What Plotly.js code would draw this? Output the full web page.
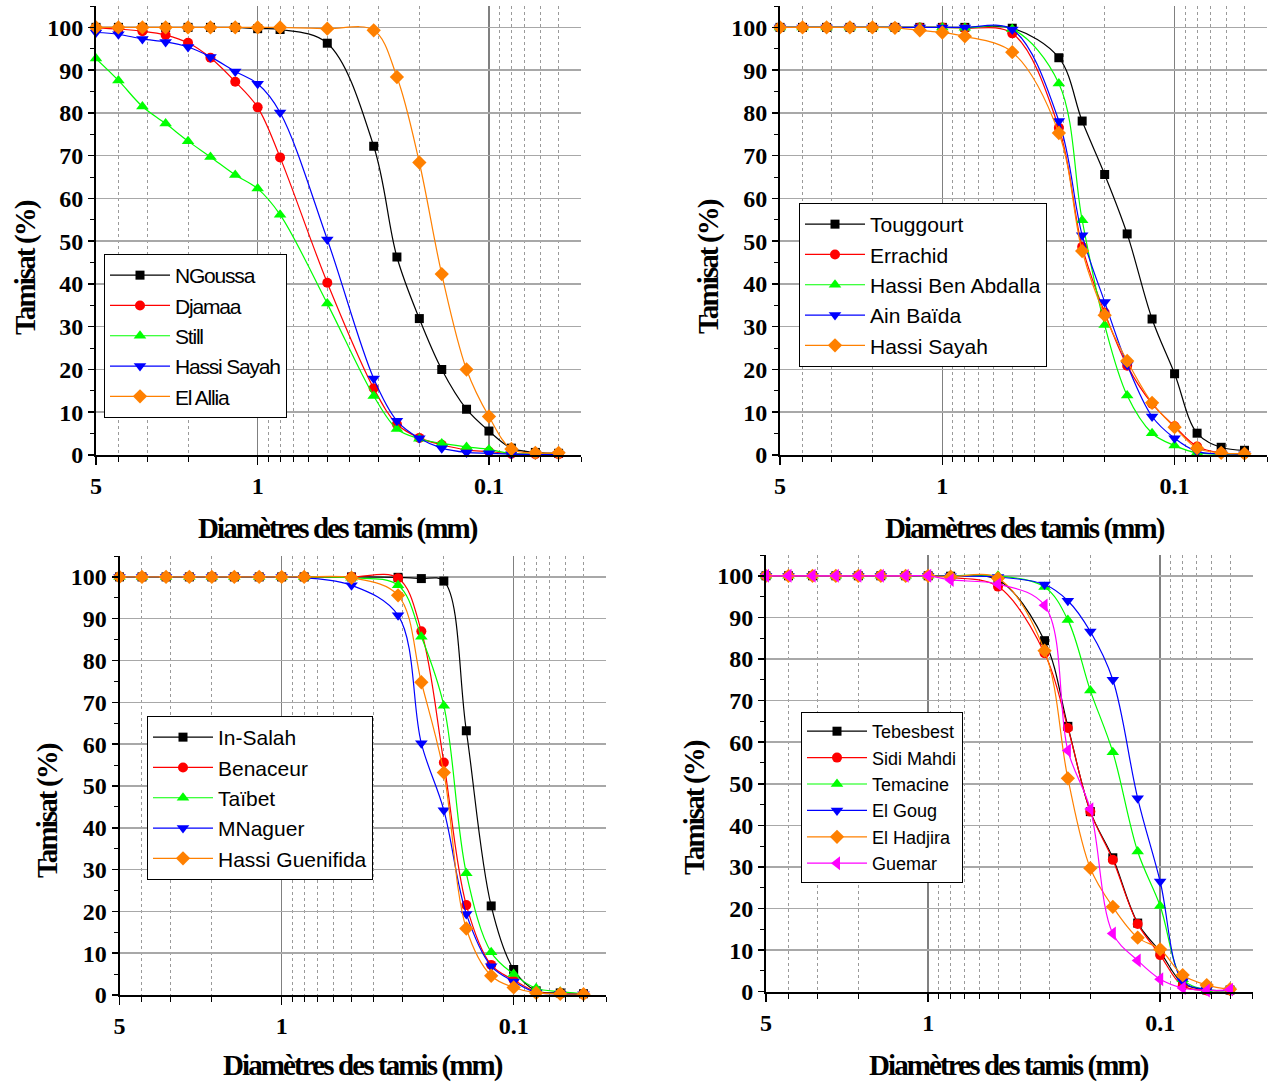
<!DOCTYPE html>
<html>
<head>
<meta charset="utf-8">
<script src="https://cdn.plot.ly/plotly-3.0.1.min.js"></script>
<style>
  html, body { margin: 0; padding: 0; background: #fff; }
  #chart { width: 1274px; height: 1084px; }
  text.legendtext { letter-spacing: -1.2px; }
  text.annotation-text { letter-spacing: -1.9px; }
</style>
</head>
<body>
<div id="chart"></div>
<script>
// ---- Data ----
const sieves = [5, 4, 3.15, 2.5, 2, 1.6, 1.25, 1, 0.8, 0.5, 0.315, 0.25, 0.2, 0.16, 0.125, 0.1, 0.08, 0.063, 0.05];

// Panel 1
const ngoussa   = [100, 100, 100, 100, 100, 100, 100, 99.7, 99.5, 96.3, 72.2, 46.3, 31.9, 20.0, 10.7, 5.6, 1.6, 0.6, 0.4];
const djamaa    = [99.9, 99.6, 99.1, 98.2, 96.4, 92.9, 87.3, 81.3, 69.6, 40.3, 15.6, 7.2, 4.0, 2.4, 1.2, 0.8, 0.3, 0.2, 0.2];
const still     = [92.7, 87.6, 81.5, 77.5, 73.4, 69.7, 65.5, 62.3, 56.2, 35.4, 13.8, 6.1, 3.8, 2.7, 1.9, 1.3, 0.3, 0.2, 0.2];
const hassiSayah1 = [98.8, 98.4, 97.3, 96.6, 95.4, 93.1, 89.7, 86.8, 80.1, 50.4, 17.9, 8.0, 3.9, 1.6, 0.6, 0.4, 0.2, 0.1, 0.1];
const elAllia   = [100, 100, 100, 100, 100, 100, 100, 100, 100, 99.7, 99.3, 88.4, 68.4, 42.3, 20.0, 9.0, 1.4, 0.5, 0.5];

// Panel 2
const touggourt = [100, 100, 100, 100, 100, 100, 100, 100, 100, 99.8, 92.9, 78.1, 65.6, 51.7, 31.8, 19.0, 5.1, 1.8, 1.1];
const errachid  = [100, 100, 100, 100, 100, 100, 100, 100, 99.8, 98.6, 76.5, 48.7, 33.3, 20.9, 12.0, 6.7, 2.0, 0.5, 0.3];
const hassiBenAbdalla = [100, 100, 100, 100, 100, 100, 100, 100, 99.9, 99.6, 86.9, 54.9, 30.4, 13.9, 5.1, 2.2, 0.5, 0.2, 0.2];
const ainBaida  = [100, 100, 100, 100, 100, 100, 100, 100, 100, 99.5, 78.1, 51.4, 35.8, 21.1, 9.0, 3.9, 0.8, 0.3, 0.2];
const hassiSayah2 = [100, 100, 100, 100, 100, 99.9, 99.3, 98.8, 97.9, 94.2, 75.3, 47.7, 32.7, 22.0, 12.2, 6.5, 1.6, 0.5, 0.3];

// Panel 3
const inSalah   = [100, 100, 100, 100, 100, 100, 100, 100, 100, 100, 99.9, 99.6, 99.0, 63.2, 21.3, 6.1, 1.0, 0.5, 0.3];
const benaceur  = [100, 100, 100, 100, 100, 100, 100, 100, 100, 100, 99.7, 87.0, 55.6, 21.5, 7.2, 3.6, 0.8, 0.3, 0.2];
const taibet    = [100, 100, 100, 100, 100, 100, 100, 100, 100, 99.8, 98.0, 85.7, 69.2, 29.1, 10.2, 5.0, 1.6, 0.8, 0.3];
const mnaguer   = [100, 100, 100, 100, 100, 100, 100, 100, 99.8, 98.0, 90.8, 60.2, 44.2, 19.4, 6.9, 3.2, 0.6, 0.3, 0.2];
const hassiGuenifida = [100, 100, 100, 100, 100, 100, 100, 100, 100, 99.8, 95.6, 74.8, 53.2, 15.9, 4.6, 1.8, 0.5, 0.3, 0.2];

// Panel 4
const tebesbest = [100, 100, 100, 100, 100, 100, 100, 100, 99.9, 99.0, 84.4, 63.8, 43.3, 32.2, 16.5, 9.6, 2.0, 0.4, 0.4];
const sidiMahdi = [100, 100, 100, 100, 100, 100, 100, 100, 99.6, 97.4, 81.4, 63.4, 43.3, 31.7, 16.3, 8.8, 1.4, 0.3, 0.3];
const temacine  = [100, 100, 100, 100, 100, 100, 100, 100, 100, 100, 97.3, 89.4, 72.4, 57.6, 33.7, 20.6, 3.0, 0.5, 0.3];
const elGoug    = [100, 100, 100, 100, 100, 100, 100, 100, 99.9, 99.7, 97.9, 94.0, 86.6, 75.0, 46.5, 26.5, 2.6, 0.5, 0.3];
const elHadjira = [100, 100, 100, 100, 100, 100, 100, 100, 99.8, 99.4, 82.0, 51.3, 29.7, 20.4, 13.0, 10.2, 4.0, 1.6, 0.6];
const guemar    = [100, 100, 100, 100, 100, 100, 100, 100, 99.0, 98.0, 92.9, 58.0, 43.9, 14.0, 7.5, 3.0, 0.9, 0.3, 0.5];

// Axis ticks
const majorTickVals = [5, 1, 0.1];
const majorTickText = ['5', '1', '0.1'];
const minorTickVals = [4, 3, 2, 0.9, 0.8, 0.7, 0.6, 0.5, 0.4, 0.3, 0.2, 0.09, 0.08, 0.07, 0.06, 0.05, 0.04];

const xTitle = 'Diamètres des tamis (mm)';
const yTitle = 'Tamisat (%)';

// ---- Styles ----
const C = { black: '#000000', red: '#ff0000', green: '#00ff00', blue: '#0000ff', orange: '#ff8000', magenta: '#ff00ff' };
const SYM = {
  square: ['square', 9], circle: ['circle', 10], up: ['triangle-up', 11],
  down: ['triangle-down', 11], diamond: ['diamond', 11], left: ['triangle-left', 12]
};

const W = 1274, H = 1084;
// pixel boxes [left, right, top, bottom]
const boxes = [
  [96, 581, 6, 455],
  [780, 1267, 6, 455],
  [119.5, 606, 556, 995],
  [766, 1252.5, 555, 991.7]
];

function trace(name, y, color, sym, idx) {
  const s = SYM[sym];
  const suf = idx === 0 ? '' : String(idx + 1);
  return {
    type: 'scatter', mode: 'lines+markers', name: name,
    x: sieves, y: y,
    xaxis: 'x' + suf, yaxis: 'y' + suf,
    legend: 'legend' + suf,
    line: { color: color, width: 1.2, shape: 'spline', smoothing: 1 },
    marker: { symbol: s[0], size: s[1], color: color, line: { width: 0 } },
    cliponaxis: false
  };
}

const data = [
  trace('NGoussa', ngoussa, C.black, 'square', 0),
  trace('Djamaa', djamaa, C.red, 'circle', 0),
  trace('Still', still, C.green, 'up', 0),
  trace('Hassi Sayah', hassiSayah1, C.blue, 'down', 0),
  trace('El Allia', elAllia, C.orange, 'diamond', 0),

  trace('Touggourt', touggourt, C.black, 'square', 1),
  trace('Errachid', errachid, C.red, 'circle', 1),
  trace('Hassi Ben Abdalla', hassiBenAbdalla, C.green, 'up', 1),
  trace('Ain Baïda', ainBaida, C.blue, 'down', 1),
  trace('Hassi Sayah', hassiSayah2, C.orange, 'diamond', 1),

  trace('In-Salah', inSalah, C.black, 'square', 2),
  trace('Benaceur', benaceur, C.red, 'circle', 2),
  trace('Taïbet', taibet, C.green, 'up', 2),
  trace('MNaguer', mnaguer, C.blue, 'down', 2),
  trace('Hassi Guenifida', hassiGuenifida, C.orange, 'diamond', 2),

  trace('Tebesbest', tebesbest, C.black, 'square', 3),
  trace('Sidi Mahdi', sidiMahdi, C.red, 'circle', 3),
  trace('Temacine', temacine, C.green, 'up', 3),
  trace('El Goug', elGoug, C.blue, 'down', 3),
  trace('El Hadjira', elHadjira, C.orange, 'diamond', 3),
  trace('Guemar', guemar, C.magenta, 'left', 3)
];

const tickFont = { family: 'Liberation Serif', size: 24, color: '#000', weight: 'bold' };

function xAxis(i) {
  const b = boxes[i];
  return {
    type: 'log', autorange: false,
    range: [Math.log10(5), Math.log10(0.04)],
    domain: [b[0] / W, b[1] / W],
    anchor: i === 0 ? 'y' : 'y' + (i + 1),
    tickmode: 'array', tickvals: majorTickVals, ticktext: majorTickText,
    ticks: 'outside', ticklen: 8, tickwidth: 1.5, tickcolor: '#000',
    tickfont: tickFont,
    showline: true, linecolor: '#000', linewidth: 2,
    showgrid: true, gridcolor: '#808080', gridwidth: 1.5,
    zeroline: false,
    minor: {
      tickmode: 'array', tickvals: minorTickVals,
      ticks: 'outside', ticklen: 5, tickwidth: 1, tickcolor: '#000',
      showgrid: true, gridcolor: '#9a9a9a', gridwidth: 1, griddash: 'dot'
    }
  };
}
function yAxis(i) {
  const b = boxes[i];
  return {
    range: [0, 105], autorange: false,
    domain: [1 - b[3] / H, 1 - b[2] / H],
    anchor: i === 0 ? 'x' : 'x' + (i + 1),
    tickmode: 'linear', tick0: 0, dtick: 10,
    ticks: 'outside', ticklen: 6, tickwidth: 1.5, tickcolor: '#000',
    tickfont: tickFont,
    showline: true, linecolor: '#000', linewidth: 2,
    showgrid: true, gridcolor: '#a8a8a8', gridwidth: 1.5,
    zeroline: false,
    minor: { dtick: 5, ticks: 'outside', ticklen: 4, tickwidth: 1, tickcolor: '#000', showgrid: false }
  };
}

function legendAt(left, top, size) {
  return {
    x: left / W, y: 1 - top / H, xanchor: 'left', yanchor: 'top',
    xref: 'paper', yref: 'paper',
    bgcolor: '#ffffff', bordercolor: '#000', borderwidth: 1,
    font: { family: 'Liberation Sans', size: size, color: '#000' },
    itemwidth: 60, tracegroupgap: 0
  };
}

const titleFont = { family: 'Liberation Serif', size: 29, color: '#000', weight: 'bold' };
const annotations = [];
const xTitlePos = [[338, 528], [1025, 528], [363, 1065], [1009, 1065]];
const yTitlePos = [[25, 268], [708, 267], [47, 811], [694, 808]];
xTitlePos.forEach(p => annotations.push({
  text: xTitle, xref: 'paper', yref: 'paper', x: p[0] / W, y: 1 - p[1] / H,
  xanchor: 'center', yanchor: 'middle', showarrow: false, font: titleFont
}));
yTitlePos.forEach(p => annotations.push({
  text: yTitle, xref: 'paper', yref: 'paper', x: p[0] / W, y: 1 - p[1] / H,
  xanchor: 'center', yanchor: 'middle', showarrow: false, textangle: -90, font: titleFont
}));

const layout = {
  width: W, height: H,
  margin: { l: 0, r: 0, t: 0, b: 0 },
  paper_bgcolor: '#ffffff', plot_bgcolor: '#ffffff',
  showlegend: true,
  xaxis: xAxis(0), yaxis: yAxis(0),
  xaxis2: xAxis(1), yaxis2: yAxis(1),
  xaxis3: xAxis(2), yaxis3: yAxis(2),
  xaxis4: xAxis(3), yaxis4: yAxis(3),
  legend: legendAt(104, 254, 21),
  legend2: legendAt(799, 203, 21),
  legend3: legendAt(147, 716, 21),
  legend4: legendAt(801, 712, 18),
  annotations: annotations
};

Plotly.newPlot('chart', data, layout, { displayModeBar: false, staticPlot: true });
</script>
</body>
</html>
